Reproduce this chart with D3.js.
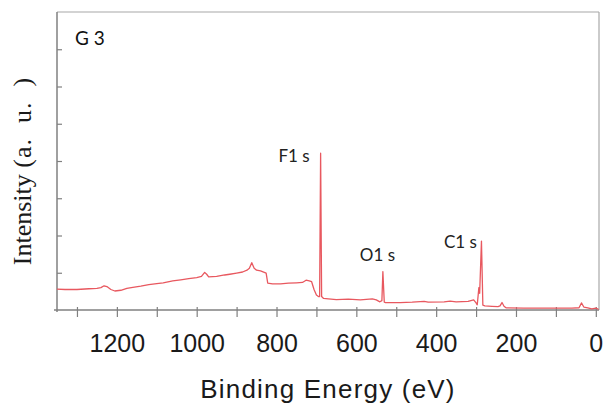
<!DOCTYPE html>
<html>
<head>
<meta charset="utf-8">
<script src="https://cdn.jsdelivr.net/npm/d3@7"></script>
<style>
  body { margin: 0; background: #fff; }
  svg { display: block; }
</style>
</head>
<body>
<div id="vis"></div>
<script>
// XPS survey spectrum, sample G 3
// binding energy (eV) and intensity (a.u., 0..8 on the frame)
var energy = [1350, 1330, 1300, 1270, 1250, 1240, 1232, 1225, 1215, 1205, 1190, 1175, 1160, 1140,
  1120, 1100, 1084, 1060, 1040, 1020, 1000, 988, 980, 975, 970, 950, 930, 917, 900, 885, 874,
  868, 862, 856, 850, 840, 826, 822, 810, 790, 770, 750, 735, 726, 718, 712, 706, 700, 695,
  692, 689.5, 687, 682, 670, 650, 620, 590, 560, 550, 541, 536, 533.5, 530, 527, 490, 460,
  430, 420, 380, 365, 350, 320, 306, 300, 297, 293, 291, 286.5, 283, 278, 260, 245, 240,
  235, 230, 225, 180, 120, 60, 42, 36, 30, 20, 10, 0, -7];
var intensity = [0.56, 0.55, 0.55, 0.57, 0.58, 0.60, 0.65, 0.63, 0.55, 0.51, 0.53, 0.58, 0.61, 0.64,
  0.68, 0.71, 0.73, 0.78, 0.81, 0.84, 0.87, 0.90, 1.01, 0.96, 0.89, 0.90, 0.94, 0.96, 0.99, 1.02, 1.07,
  1.12, 1.27, 1.12, 1.07, 1.05, 0.99, 0.72, 0.70, 0.70, 0.72, 0.73, 0.74, 0.80, 0.78, 0.76, 0.55, 0.40, 0.36,
  0.36, 4.21, 0.36, 0.31, 0.30, 0.28, 0.29, 0.27, 0.30, 0.27, 0.22, 0.25, 1.03, 0.21, 0.20, 0.20, 0.21,
  0.23, 0.21, 0.22, 0.24, 0.22, 0.23, 0.27, 0.19, 0.14, 0.60, 0.45, 1.85, 0.13, 0.11, 0.10, 0.09, 0.11,
  0.20, 0.10, 0.06, 0.05, 0.05, 0.05, 0.06, 0.19, 0.08, 0.06, 0.03, 0.05, 0.02];

// x ticks every 100 eV, labels every 200
var xTicks = [0, 100, 200, 300, 400, 500, 600, 700, 800, 900, 1000, 1100, 1200, 1300];
var xLabels = [0, 200, 400, 600, 800, 1000, 1200];
var yTicks = [1, 2, 3, 4, 5, 6, 7];

// peak annotations: name, energy / intensity where the label ends
var peakNames = ['F1', 'O1', 'C1'];
var peakEnergy = [717, 503, 298];
var peakLevel = [3.97, 1.31, 1.66];

var width = 606;
var height = 405;
// plot box (note: "top" is taken by window.top, so prefix everything)
var plotLeft = 57, plotRight = 599, plotTop = 12, plotBottom = 310;

var svg = d3.select('#vis').append('svg')
  .attr('width', width)
  .attr('height', height);

var x = d3.scaleLinear().domain([1350, -8]).range([plotLeft, plotRight]);
var y = d3.scaleLinear().domain([0, 8]).range([plotBottom, plotTop]);

// frame (top and right sides are lighter)
svg.append('line')
  .attr('x1', plotLeft).attr('x2', plotRight).attr('y1', plotTop).attr('y2', plotTop)
  .attr('stroke', '#a8a8a8').attr('stroke-width', 1.2);
svg.append('line')
  .attr('x1', plotRight).attr('x2', plotRight).attr('y1', plotTop).attr('y2', plotBottom)
  .attr('stroke', '#a8a8a8').attr('stroke-width', 1.2);

// bottom axis
var xAxis = svg.append('g')
  .attr('transform', 'translate(0,' + plotBottom + ')')
  .call(d3.axisBottom(x).tickValues(xTicks).tickSize(7).tickSizeOuter(0)
    .tickFormat(function (d) { return xLabels.indexOf(d) >= 0 ? d : ''; }));
xAxis.select('.domain').attr('stroke', '#808080').attr('stroke-width', 1.5)
  .attr('d', 'M' + (plotLeft - 3) + ',0H' + plotRight);
xAxis.selectAll('.tick line').attr('stroke', '#808080').attr('stroke-width', 1.2).attr('y1', -3);
xAxis.selectAll('.tick text')
  .attr('y', 42).attr('dy', 0)
  .attr('fill', '#1a1a1a')
  .style('font-family', '"Liberation Sans", Arial, sans-serif')
  .style('font-size', '25px');

// left axis
var yAxis = svg.append('g')
  .attr('transform', 'translate(' + plotLeft + ',0)')
  .call(d3.axisLeft(y).tickValues(yTicks).tickSize(4).tickSizeOuter(0).tickFormat(''));
yAxis.select('.domain').attr('stroke', '#808080').attr('stroke-width', 1.5)
  .attr('d', 'M0,' + plotTop + 'V' + (plotBottom + 2));
yAxis.selectAll('.tick line').attr('stroke', '#808080').attr('stroke-width', 1.2).attr('x2', 5);

// spectrum
var points = energy.map(function (e, i) { return [e, intensity[i]]; });
var line = d3.line()
  .x(function (d) { return x(d[0]); })
  .y(function (d) { return y(d[1]); });

svg.append('path')
  .datum(points)
  .attr('d', line)
  .attr('fill', 'none')
  .attr('stroke', '#e8585f')
  .attr('stroke-width', 1.3)
  .attr('stroke-linejoin', 'round');

// peak labels
var labelFont = 'Lato, "Open Sans", sans-serif';
peakNames.forEach(function (name, i) {
  svg.append('text')
    .attr('x', x(peakEnergy[i]))
    .attr('y', y(peakLevel[i]))
    .attr('text-anchor', 'end')
    .attr('fill', '#222')
    .style('font-family', labelFont)
    .style('font-size', '17px')
    .style('white-space', 'pre')
    .text(name + ' s');
});

// sample name
svg.append('text')
  .attr('x', 75).attr('y', 45)
  .attr('fill', '#111')
  .style('font-family', labelFont)
  .style('font-size', '19px')
  .style('white-space', 'pre')
  .text('G 3');

// axis titles
svg.append('text')
  .attr('x', (plotLeft + plotRight) / 2).attr('y', 398)
  .attr('text-anchor', 'middle')
  .attr('fill', '#1a1a1a')
  .attr('letter-spacing', '1.2px')
  .style('font-family', '"Liberation Sans", Arial, sans-serif')
  .style('font-size', '26px')
  .text('Binding Energy (eV)');

var yTitle = svg.append('text')
  .attr('transform', 'translate(31,171) rotate(-90)')
  .attr('text-anchor', 'middle')
  .attr('fill', '#1a1a1a')
  .style('font-family', '"Liberation Serif", "Times New Roman", serif')
  .style('font-size', '26px')
  .style('white-space', 'pre');
yTitle.append('tspan').text('Intensity ');
yTitle.append('tspan').attr('letter-spacing', '1px').text('(a.  u.  )');
</script>
</body>
</html>
